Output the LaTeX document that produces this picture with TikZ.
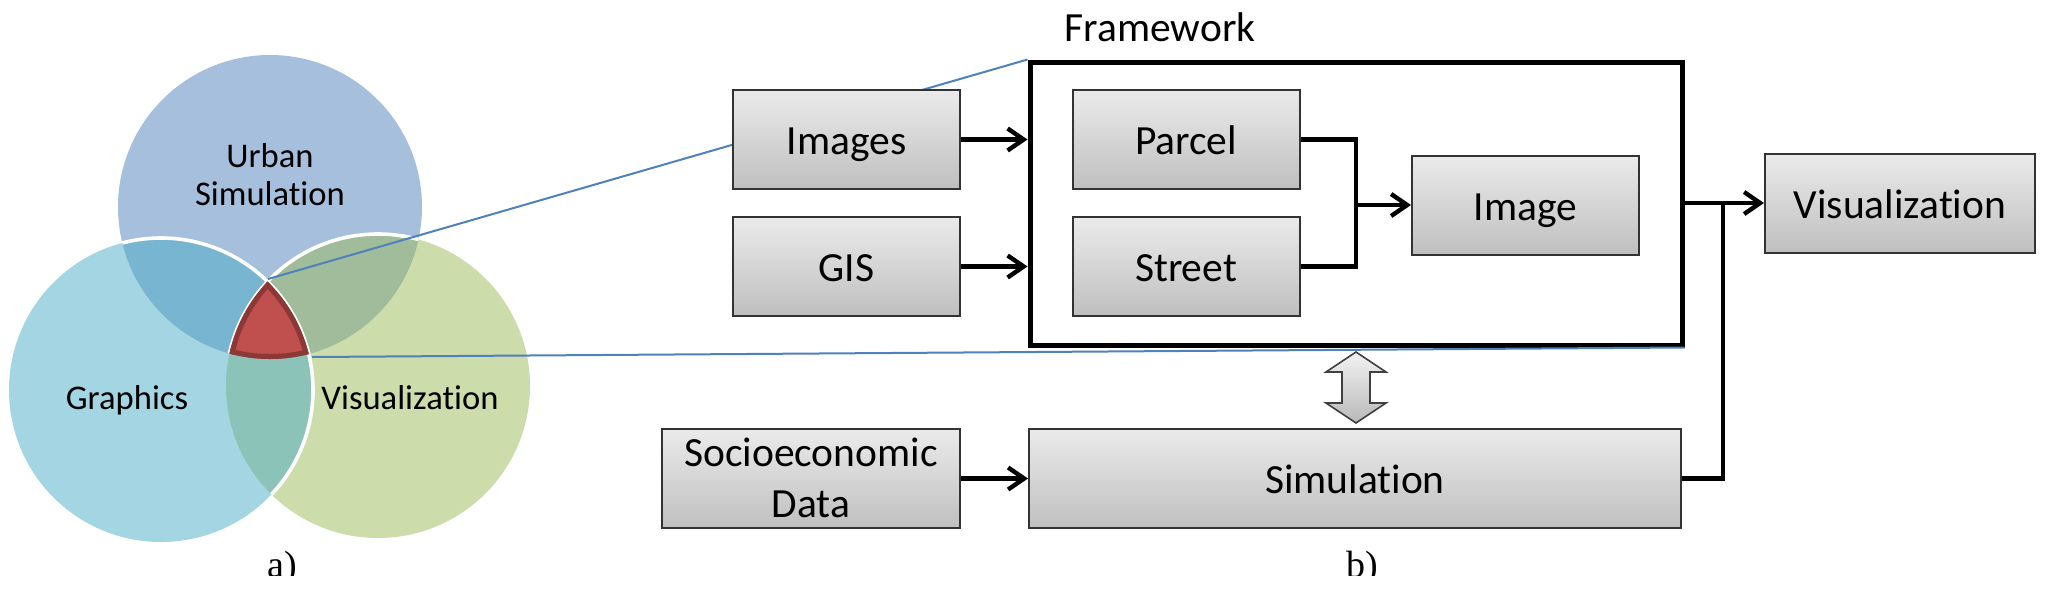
\documentclass[tikz,border=0pt]{standalone}
\usepackage{fontspec}
\setmainfont{Carlito}[Ligatures=NoCommon]
\newfontfamily\labfont{Liberation Serif}
\usetikzlibrary{arrows.meta,calc}
\definecolor{ucol}{HTML}{4F81BD}
\definecolor{gcol}{HTML}{4BACC6}
\definecolor{vcol}{HTML}{9BBB59}
\definecolor{redfill}{HTML}{C0504D}
\definecolor{redline}{HTML}{8C3836}
\definecolor{blueline}{HTML}{4F81BD}
\begin{document}
\begin{tikzpicture}[x=0.5pt,y=-0.5pt,
  box/.style={draw=black!80,line width=1pt,top color=gray!16,bottom color=gray!50,
    minimum width=113.5pt,minimum height=49.5pt,inner sep=0pt,
    text height=15pt,text depth=0pt,
    font=\fontsize{20.75}{25.3}\selectfont},
  wire/.style={line width=2.2pt},
  conn/.style={wire,-{Straight Barb[length=8pt,width=11pt]}},
  vennlabel/.style={font=\fontsize{17.3}{19}\selectfont,align=center},
  whiteedge/.style={draw=white,line width=1.8pt},
  link/.style={draw=blueline,line width=1pt},
  sublabel/.style={font=\labfont\fontsize{19}{22}\selectfont,anchor=base}]
\useasboundingbox (0,0) rectangle (2054,590);
\fill[white] (0,0) rectangle (2054,590);
% ---------- Venn diagram ----------
\def\ucirc{(270,207) circle[radius=76pt]}
\def\gcirc{(161,390) circle[radius=76pt]}
\def\vcirc{(378,386) circle[radius=76pt]}
\fill[ucol,fill opacity=0.5] \ucirc;
\fill[vcol,fill opacity=0.5] \vcirc;
\fill[gcol,fill opacity=0.5] \gcirc;
\begin{scope}
  \clip \ucirc;
  \path[whiteedge] \vcirc;
  \path[whiteedge] \gcirc;
\end{scope}
\begin{scope}
  \clip \vcirc;
  \path[whiteedge] \gcirc;
\end{scope}
\begin{scope}
  \clip \ucirc; \clip \vcirc; \clip \gcirc;
  \fill[redfill] (0,0) rectangle (600,600);
  \draw[redline,line width=5pt] \ucirc;
  \draw[redline,line width=5pt] \vcirc;
  \draw[redline,line width=5pt] \gcirc;
\end{scope}
\node[vennlabel] (urb) at (270,175) {Urban\\Simulation};
\node[vennlabel] (gra) at (127,400) {Graphics};
\node[vennlabel] (vis0) at (410,398) {Visualization};
\coordinate (tv) at (268,279);
\coordinate (rv) at (312,357);
% ---------- Framework ----------
\node[draw=black,line width=2.5pt,minimum width=326pt,minimum height=141.5pt,inner sep=0pt] (fw) at (1356,203.5) {};
\node[font=\fontsize{20.75}{25}\selectfont] (fwl) at (1160,27) {Framework};
\draw[link] (tv) -- (fw.north west);
\draw[link] (rv) -- (fw.south east);
\node[box] (images) at (846.5,139.5) {Images};
\node[box] (gis) at (846.5,266.5) {GIS};
\node[box] (parcel) at (1186,139.5) {Parcel};
\node[box] (street) at (1186,266.5) {Street};
\node[box] (image) at (1525.5,205) {Image};
\node[box,minimum width=135pt] (vis) at (1900,203) {Visualization};
\node[box,minimum width=149pt,text height=39pt,text depth=0pt] (socio) at (811,478.5)
  {\begin{tabular}[b]{@{}c@{}}Socioeconomic\\Data\end{tabular}};
\node[box,minimum width=326pt] (sim) at (1355,478.5) {Simulation};
% ---------- connectors ----------
\draw[conn] (images.east) -- (images.east -| fw.west);
\draw[conn] (gis.east) -- (gis.east -| fw.west);
\coordinate (j1) at (1356,205);
\draw[wire] (parcel.east) -| (j1) |- (street.east);
\draw[conn] (j1) -- (image.west);
\draw[conn] (fw.east |- vis.west) -- (vis.west);
\coordinate (j2) at (1723,203);
\draw[wire] (sim.east) -| (j2);
\draw[conn] (socio.east) -- (sim.west);
% ---------- double block arrow ----------
\draw[draw=black!75,line width=0.8pt,top color=gray!10,bottom color=gray!55]
  (1356,352) -- (1386,372) -- (1370,372) -- (1370,403) -- (1386,403) -- (1356,423)
  -- (1326,403) -- (1342,403) -- (1342,372) -- (1326,372) -- cycle;
% ---------- sub labels ----------
\begin{scope}
  \clip (0,0) rectangle (2054,575);
  \node[sublabel] (la) at (282,577) {a)};
  \node[sublabel] (lb) at (1362,577) {b)};
\end{scope}
\end{tikzpicture}
\end{document}
